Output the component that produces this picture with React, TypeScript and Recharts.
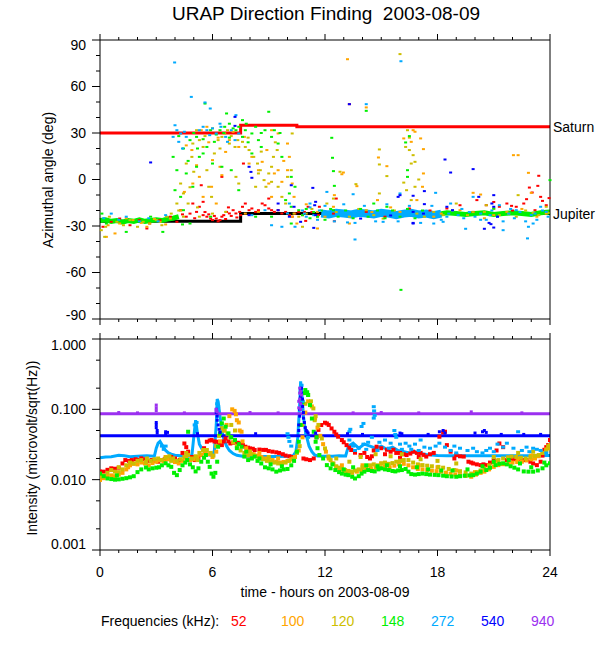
import React from 'react';
import { ComposedChart, Scatter, Line, XAxis, YAxis } from 'recharts';

type Pt = [number, number];

// axis ticks
const hourTicks = [0, 1, 2, 3, 4, 5, 6, 7, 8, 9, 10, 11, 12, 13, 14, 15, 16, 17, 18, 19, 20, 21, 22, 23, 24];
const hourLabels = [0, 6, 12, 18, 24];
const angleTicks = [-90, -80, -70, -60, -50, -40, -30, -20, -10, 0, 10, 20, 30, 40, 50, 60, 70, 80, 90];
const angleLabels = [-90, -60, -30, 0, 30, 60, 90];
const intensityTicks = [0.001, 0.002, 0.005, 0.01, 0.02, 0.05, 0.1, 0.2, 0.5, 1];
const intensityLabels = [0.001, 0.01, 0.1, 1];

const freqNames = ['52', '100', '120', '148', '272', '540', '940'];

const COLORS: Record<string, string> = {
  '52': '#ff0000',
  '100': '#ffa500',
  '120': '#cdbe00',
  '148': '#00f000',
  '272': '#00aaff',
  '540': '#0000ff',
  '940': '#9b30f0',
};

// planet directions (deg)
const saturnSteps: Pt[] = [[0, 30], [7.5, 35], [10.5, 34], [24, 34]];
const jupiterSteps: Pt[] = [[0, -27], [7.5, -22], [10.5, -22], [24, -22]];

// dense cores of the direction clusters
const coreGreenEarly: Pt[] = [
  [0, -26.5], [0.3, -26], [0.6, -27], [0.9, -26.5], [1.2, -27.5], [1.5, -26.5], [1.8, -27], [2.1, -26],
  [2.4, -27], [2.7, -26.5], [3.0, -26], [3.3, -26.5], [3.6, -25.5], [3.9, -25], [4.2, -24],
];
const coreCyan: Pt[] = [
  [11.8, -22], [12.2, -22.5], [12.6, -21.5], [13.0, -22], [13.4, -22.5], [13.8, -21.5], [14.2, -22], [14.6, -22.5],
  [15.0, -21.5], [15.4, -22], [15.8, -23], [16.2, -22], [16.6, -21.5], [17.0, -22.5], [17.4, -22], [17.8, -23], [18.2, -22],
];
const coreGreenLate: Pt[] = [
  [17.5, -22], [18, -22.5], [18.5, -21.5], [19, -22], [19.5, -22.5], [20, -22], [20.5, -21.5], [21, -22.5],
  [21.5, -22], [22, -21.5], [22.5, -22], [23, -22.5], [23.5, -21.5], [24, -21],
];

// azimuth scatter
const dirRed: Pt[] = [
  [0.16, -30.5], [0.6, -27.3], [1.05, -25.2], [1.6, -29.5], [2.1, -26.2], [2.65, -28.4], [2.5, -31.6], [3.2, -26.2], [3.75, -24], [4.1, -27.3],
  [4.3, -19.8], [4.6, -24], [4.95, -15.5], [5.15, -20.9], [5.3, -17.6], [5.5, -23], [5.7, -24], [5.9, -25.2], [6.0, -26.2], [6.2, -25.2],
  [6.4, -26.2], [6.6, -23], [6.75, -20.9], [6.9, -21.9], [7.1, -19.8], [7.25, -21.9], [7.45, -20.9], [7.6, -17.6], [7.75, -15.5], [7.95, -19.8],
  [8.1, -18.7], [8.3, -20.9], [8.45, -19.8], [8.65, -15.5], [8.8, -16.6], [9.0, -18.7], [9.15, -19.8], [9.3, -20.9], [9.5, -19.8], [9.7, -21.9],
  [9.9, -20.9], [10.1, -23], [10.25, -24], [10.4, -21.9], [10.6, -20.9], [10.8, -23], [5.4, -3.7], [6.5, 1.7], [7.65, 10.3], [5.5, -14.4],
  [9.0, -12.3], [4.8, -22], [5.05, -25], [5.6, -21], [5.8, -22.5], [6.1, -23.5], [6.3, -27], [6.5, -24], [6.7, -25.5], [7.0, -23.5],
  [7.3, -24.5], [4.4, -22.5], [6.85, -18], [7.5, -23],
  [10.9, -20.9], [11.7, -17.6], [12.45, -22], [12.6, -12.3], [13.3, 48.6], [12.5, -26.9], [14.2, -20.9], [16.5, -18.7], [18.5, -18.7], [20.1, -13.3],
  [20.6, -16.6], [21.7, -15.5], [21.95, -17], [22.75, -12.7], [22.9, -5.2], [23.4, 2.4], [23.35, -4.1], [23.5, -11.2], [23.6, -13.8], [23.05, -8.4],
  [22.6, -15.5], [22.2, -17.6], [21.3, -17.6], [19.2, -16.6], [11.1, -17.6], [11.65, -23], [10.97, -26.7], [19.9, -20.9], [23.8, -16.6], [23.2, -19.8],
  [11.3, -21], [15.2, -24], [17.6, -20], [21.0, -14.5], [22.0, -20], [23.95, -12],
];
const dirOrange: Pt[] = [
  [0.43, -29.5], [0.8, -34.8], [1.05, -28.4], [1.76, -26.2], [2.5, -30.5], [3.2, -27.3], [3.75, -25.2], [0.34, -37], [1.4, -25], [2.2, -28],
  [2.9, -25.5], [3.5, -29],
  [4.6, 22], [4.9, 19], [5.15, 9.2], [5.3, 1.7], [5.4, 31.8], [5.7, 34], [5.95, -4.7], [6.0, 12.5], [6.4, 8.2], [6.5, 2.8], [6.7, 17.8],
  [6.9, 25.4], [7.1, 30.8], [7.4, 21], [7.7, 27.5], [7.95, 10.3], [8.1, 14.6], [8.45, 6], [8.65, 11.4], [9.0, -2.6], [9.15, -11.2], [9.3, 3.9],
  [9.5, 6], [9.7, -1.5], [10.0, 6], [10.1, 14.6], [10.25, -2.6], [10.35, -11.2], [5.5, -11.2], [6.2, -15.5], [4.95, -2.6], [7.75, -22],
  [8.45, -20.9], [10.25, -24], [10.5, -28.4], [9.15, 31.8], [9.5, 29.7], [10.0, 23.2], [4.3, -20], [4.5, -8], [5.8, 24], [6.3, 27], [8.9, 19], [9.8, 12],
  [16.7, 31.8], [16.8, 30.8], [16.2, 26.5], [16.6, 24.3], [17.1, 26.5], [17.25, 19.6], [16.9, -13.3], [17.2, -4.7], [17.25, 3.9], [14.85, 14.2],
  [14.8, -13.3], [15.3, 8.6], [13.7, -4.3], [12.98, 4.5], [12.9, 3.4], [12.5, -10.1], [13.2, 77.6], [14.2, 46.5], [22.05, 15.7], [22.3, 15.7],
  [22.85, 4.3], [23.0, -8.6], [19.9, -8.6], [20.3, -9.7], [11.6, -31.6], [13.3, -28.4], [17.8, -24], [19.2, -19.8], [21.7, -20.9], [23.3, -24],
  [21, -23], [16, -20.9], [11.6, -20.9], [12.45, -17.6], [11.0, -16], [12.0, -24], [14.5, -21], [15.5, -18], [18.2, -22], [20.5, -25], [22.5, -19], [23.8, -22],
];
const dirYellow: Pt[] = [
  [0.07, -32.7], [0.3, -30.5], [0.5, -24], [0.9, -27.3], [1.25, -29.5], [1.6, -26.2], [2.0, -30.5], [2.3, -27.3], [2.65, -28.4], [3.0, -26.2],
  [3.3, -29.5], [3.55, -24], [3.8, -22], [0.25, -37],
  [4.1, -15.5], [4.3, -2.6], [4.45, -9], [4.6, 10.3], [4.7, -15.5], [4.9, 14.6], [4.95, 23.2], [5.15, 31.8], [5.3, 25.4], [5.5, 21], [5.7, 6],
  [5.8, -4.7], [5.95, -11.2], [6.1, 16.8], [6.3, 25.4], [6.5, 27.5], [6.65, 29.7], [6.8, 31.8], [6.9, 23.2], [7.2, 21], [7.35, 25.4], [7.6, 24.3],
  [7.75, 21], [7.95, 19], [8.2, 14.6], [8.4, 10.3], [8.55, 6], [8.75, -0.4], [8.85, -4.7], [9.0, 3.9], [9.15, 8.2], [9.25, 14.6], [9.45, 19],
  [9.5, -4.7], [9.7, -11.2], [9.9, -15.5], [10.0, 1.7], [10.2, 6], [10.25, 29.7], [10.35, -22], [10.6, -24], [10.8, -30.5], [7.25, 1.7], [7.4, -2.6],
  [8.3, -4.7], [8.45, 3.9], [9.15, -1.5], [4.45, -24], [6.0, -22], [6.7, -20.9], [5.3, -24], [4.2, -20], [5.0, 5], [5.6, 28], [6.0, 33], [6.4, 20],
  [7.0, 28], [7.9, 27], [8.6, 18], [9.35, 24], [4.8, -5], [5.2, -18],
  [16.0, 80.9], [14.9, 19.4], [14.9, 9.7], [14.9, -9], [15.3, 2.2], [16.3, 21], [16.4, 31.8], [16.5, 19], [16.6, 10.3], [16.7, 15.7], [16.8, 11.4],
  [16.8, -4.7], [16.35, -6.9], [16.6, -13.3], [13.65, -3], [12.8, 5], [12.45, -12.3], [22.3, -10.1], [23.8, -17.6], [20.6, -16.6], [19.0, -15.5],
  [12.1, -15.5], [11.6, -24], [14.2, -19.8], [17.8, -20.9], [18.3, -23], [21.3, -23], [23.1, -21.5], [19.6, -23], [15.1, -25.2], [13.3, -24],
  [16.9, -22], [20.5, -20.9], [22.2, -24], [23.9, -21.5], [11.0, -22], [11.3, -19], [12.6, -21], [13.8, -19], [14.6, -23], [15.7, -20], [17.3, -24],
  [18.8, -20], [19.9, -21], [21.0, -19], [21.8, -22], [22.7, -20], [23.4, -23], [16.5, 27], [16.2, -2], [17.0, 0],
];
const dirGreen: Pt[] = [
  [1.4, -33.8], [3.35, -33.8], [0.34, -28.4], [2.7, -24], [0.1, -22], [4.4, -29],
  [3.9, 14.6], [4.1, 6], [4.0, -6.9], [4.3, -11.2], [4.6, 3.9], [4.95, -4.7], [4.45, 20], [4.8, 25.4], [5.15, 27.5], [5.6, 49], [5.3, 14.6],
  [5.7, 21], [6.1, 24.3], [5.9, 31.8], [6.4, 31.8], [6.65, 34], [6.9, 36], [7.25, 31.8], [7.4, 34], [7.6, 27.5], [7.75, 31.8], [8.1, 29.7],
  [8.3, 34], [8.45, 25.4], [9.0, 43.7], [8.8, 31.8], [9.15, 27.5], [9.3, 31.8], [9.5, 23.2], [9.7, 14.6], [10.2, 1.7], [10.4, -4.7], [10.1, -9],
  [9.9, -13.3], [10.2, -17.6], [10.6, -19.8], [7.4, -6.9], [7.0, 6], [6.5, 8.2], [6.0, 10.3], [5.15, 8.2], [5.5, 16.8], [4.8, -28.4], [4.45, -19.8],
  [5.9, -24], [8.3, -24], [9.15, -24], [10.2, -28.4], [8.1, 16.8], [8.6, 21], [7.6, 38.3], [6.75, 42.6], [4.2, 28], [5.0, 30], [5.5, 26], [6.2, 29],
  [6.9, 27], [7.1, 33], [7.9, 24], [8.6, 30], [9.6, 30], [5.2, 20], [4.7, 12], [7.8, 36], [6.6, 30],
  [12.36, 26.9], [12.4, 14], [12.45, 5.4], [12.5, -4.1], [16.5, 28], [16.3, 23.9], [16.4, 6], [16.4, 1.7], [14.2, 44.3], [16.05, -71.2], [24.0, -0.4],
  [15.3, -17.6], [14.6, -15.5], [21, -18.7], [12.45, -19.8],
  [10.8, -23], [11.0, -19], [11.2, -25], [11.4, -21], [11.6, -24], [11.8, -20], [12.0, -26], [12.3, -19], [12.7, -24], [13.1, -20], [13.5, -25],
  [13.9, -19], [14.3, -24], [14.8, -20], [15.2, -25], [15.6, -20], [16.0, -24], [16.4, -19], [16.8, -25], [17.2, -20],
];
const dirCyan: Pt[] = [
  [3.98, 75.5], [4.87, 53.3], [5.88, 45.8], [5.6, 49.7],
  [3.9, 27.5], [4.1, 31.8], [4.3, 29.7], [4.5, 30.8], [4.2, 24.3], [4.6, 27.5], [4.4, 20], [4.0, 35],
  [5.3, 31.8], [5.5, 34], [5.7, 31.8], [6.0, 33], [6.2, 29.7], [6.45, 34], [6.7, 27.5], [7.0, 31.8], [7.25, 41.5], [7.2, 25.4], [7.4, 29.7],
  [6.8, 24.3], [6.4, 36], [5.85, 28.6],
  [8.1, -23], [8.8, -19.8], [10.0, -21.9], [10.1, -15.5], [10.4, -30.5], [9.7, -30.5], [9.15, -29.5],
  [0.6, -22], [1.4, -24], [2.1, -27], [3.5, -23], [0.2, -25], [1.0, -26], [2.6, -25], [3.1, -27],
  [14.2, 48.6], [16.05, 76.3], [13.6, -38.7], [22.8, -38], [17.9, -8.6], [19.5, -31.8], [21.5, -32.7], [22.85, -30.5], [20.3, -26], [16, -9],
  [18.7, -15.5], [21.3, -16.6], [22.2, -19.8], [23.5, -17.6], [23.1, -28.4], [23.8, -20.9], [13.5, -9.5], [12.1, -8], [11.2, -15.5], [10.9, -22],
  [13.2, -27.7], [15.1, -27.3], [17.8, -28.4], [18.3, -27.3], [19.9, -11.2],
  [12.0, -17], [12.5, -27], [13.0, -16], [13.6, -28], [14.1, -17], [14.7, -27], [15.3, -16], [15.9, -27], [16.5, -17], [17.1, -28], [17.7, -17],
  [18.2, -26], [11.4, -23], [11.6, -26], [11.7, -20], [10.8, -20], [11.0, -24], [11.2, -18],
  [18.5, -24], [18.8, -20], [19.1, -23], [19.4, -25], [19.7, -21], [20.0, -24], [20.3, -22], [20.6, -26], [20.9, -20], [21.2, -24], [21.5, -27],
  [21.8, -22], [22.1, -25], [22.4, -21], [22.7, -27], [23.0, -23], [23.3, -26], [23.6, -20], [23.9, -24], [18.6, -22], [19.3, -19], [20.8, -23],
  [21.9, -19], [23.2, -22],
];
const dirBlue: Pt[] = [
  [2.7, 11], [7.2, 40.4], [7.2, 34.6], [7.95, 8.2], [8.1, 1.1], [8.05, 4.9], [7.95, -23], [9.5, -19.8], [9.5, -15.5], [10.2, -3.7], [10.1, -24],
  [10.35, -17.6], [10.7, -27.3], [11.35, -5.4], [11.45, -16.6], [11.4, -31.2], [11.5, -14.4], [15.9, -11.2], [16, -10.1], [16.7, -10.5],
  [18.4, 12.9], [18.7, 4.5], [19.9, 6.7], [17.3, -7.5], [17.3, -15.9], [20.9, -15.5], [21, -17.6], [20.75, -28], [20.85, -28.8], [20.5, -31.8],
  [21, -31], [20.2, -11.2], [21, -10.1], [21.2, -24], [16.7, -28.4], [15.5, -23.2], [13.9, -25.2], [11.5, -23], [16.7, -20.9], [17.25, -22],
  [16.7, -28], [18.5, -17.6], [18.8, -19.8], [13.3, 48.6],
];

// intensity (microvolt/sqrt(Hz))
const levelPurple: Pt[] = [[0, 0.0865], [24, 0.0865]];
const spikesPurple: Pt[] = [
  [3.0, 0.115], [3.0, 0.105], [3.0, 0.096], [6.2, 0.095], [6.2, 0.1], [6.25, 0.092], [10.65, 0.2], [10.65, 0.17], [10.65, 0.14],
  [10.7, 0.12], [10.7, 0.1], [10.7, 0.18], [10.75, 0.16], [10.6, 0.13], [10.6, 0.105], [1.0, 0.09], [2.0, 0.089], [4.5, 0.089],
  [8.0, 0.09], [9.5, 0.089], [13.5, 0.089], [15, 0.09], [17.0, 0.089], [19.8, 0.092], [22.5, 0.089],
];
const levelBlue: Pt[] = [[0, 0.042], [24, 0.042]];
const spikesBlue: Pt[] = [
  [3.0, 0.065], [3.0, 0.06], [3.0, 0.055], [3.05, 0.05], [3.05, 0.046], [3.5, 0.048], [3.5, 0.045], [3.6, 0.047], [5.2, 0.045],
  [6.2, 0.1], [6.2, 0.09], [6.25, 0.08], [6.25, 0.07], [6.3, 0.06], [6.35, 0.052], [6.4, 0.047], [8.3, 0.045],
  [10.6, 0.05], [10.6, 0.06], [10.65, 0.08], [10.65, 0.1], [10.7, 0.12], [10.7, 0.15], [10.7, 0.19], [10.75, 0.2], [10.75, 0.17],
  [10.8, 0.14], [10.8, 0.11], [10.85, 0.09], [10.85, 0.075], [10.9, 0.065], [10.95, 0.055], [11.0, 0.05], [11.05, 0.048], [11.1, 0.046],
  [11.5, 0.046], [13.2, 0.045], [14.0, 0.044], [16.0, 0.046], [16.1, 0.045], [17.5, 0.044], [18.1, 0.048], [18.3, 0.05], [18.4, 0.046],
  [20.0, 0.046], [20.4, 0.048], [20.5, 0.05], [20.6, 0.047], [21.4, 0.044], [22.6, 0.044], [23.5, 0.044],
];
const traceCyan: Pt[] = [
  [0, 0.0205], [0.3, 0.021], [0.6, 0.0212], [1.0, 0.0222], [1.3, 0.0218], [1.6, 0.0212], [2.0, 0.0215], [2.5, 0.0218], [2.9, 0.0215],
  [3.0, 0.028], [3.1, 0.033], [3.2, 0.035], [3.35, 0.03], [3.5, 0.026], [3.65, 0.024], [3.8, 0.023], [4.0, 0.0222], [4.3, 0.0218],
  [4.6, 0.0212], [4.9, 0.022], [5.0, 0.04], [5.1, 0.07], [5.2, 0.045], [5.3, 0.032], [5.45, 0.027], [5.6, 0.024], [5.8, 0.0225],
  [6.0, 0.022], [6.1, 0.026], [6.2, 0.06], [6.25, 0.14], [6.3, 0.13], [6.4, 0.08], [6.5, 0.05], [6.6, 0.038], [6.75, 0.03], [6.9, 0.026],
  [7.1, 0.0235], [7.3, 0.0222], [7.6, 0.0215], [8.0, 0.0213], [8.5, 0.0214], [9.0, 0.0213], [9.5, 0.0214], [10.0, 0.0215], [10.3, 0.0218],
  [10.45, 0.025], [10.55, 0.04], [10.65, 0.12], [10.7, 0.25], [10.78, 0.15], [10.85, 0.08], [10.95, 0.05], [11.05, 0.038], [11.15, 0.03],
  [11.3, 0.025], [11.45, 0.0225], [11.6, 0.0217], [12.0, 0.0215], [12.4, 0.0215], [12.75, 0.0218], [13.1, 0.0217], [13.25, 0.03],
  [13.5, 0.033], [13.8, 0.028], [14.1, 0.032], [14.4, 0.03], [14.7, 0.028], [15.0, 0.03], [15.3, 0.027], [15.6, 0.029], [15.9, 0.026],
  [16.2, 0.025], [16.5, 0.024], [16.8, 0.025], [17.1, 0.0235], [17.4, 0.0228], [17.7, 0.0225], [18.0, 0.022], [18.5, 0.0218], [19, 0.0218],
  [20, 0.0218], [21, 0.0218], [22, 0.0218], [23, 0.0218], [24, 0.022],
];
const cloudCyan: Pt[] = [
  [13.3, 0.0366], [13.5, 0.03], [13.8, 0.028], [14.05, 0.032], [14.3, 0.034], [14.5, 0.04], [14.6, 0.109], [14.62, 0.095], [14.65, 0.082],
  [14.6, 0.075], [14.9, 0.034], [15.2, 0.0366], [15.5, 0.033], [15.7, 0.05], [15.8, 0.04], [16.0, 0.032], [16.3, 0.033], [16.5, 0.03],
  [16.8, 0.032], [17.1, 0.0366], [17.3, 0.029], [17.6, 0.028], [17.9, 0.03], [18.1, 0.033], [18.4, 0.029], [18.7, 0.026], [18.9, 0.03],
  [19.2, 0.028], [19.6, 0.026], [19.9, 0.028], [20.4, 0.024], [20.8, 0.028], [21.2, 0.032], [21.5, 0.029], [21.7, 0.033], [22.05, 0.028],
  [22.3, 0.048], [22.5, 0.026], [22.75, 0.029], [23.1, 0.028], [23.5, 0.026], [23.8, 0.024], [14.05, 0.063], [13.95, 0.057], [13.3, 0.048],
  [13.35, 0.052], [15.75, 0.044], [16.6, 0.027], [17.0, 0.026], [19.0, 0.024], [20.1, 0.025], [20.6, 0.026], [21.0, 0.025], [22.9, 0.025],
  [23.3, 0.027], [13.6, 0.026], [14.2, 0.027], [14.8, 0.026], [15.4, 0.028], [16.1, 0.027], [5.05, 0.06], [5.15, 0.065], [6.3, 0.11],
  [6.25, 0.12], [10.75, 0.22], [10.7, 0.18], [10.8, 0.13], [11.0, 0.045], [11.1, 0.04], [10.0, 0.045], [10.05, 0.04], [10.1, 0.035], [10.2, 0.03],
  [3.3, 0.03], [3.4, 0.027], [3.5, 0.03],
];
const intRed: Pt[] = [
  [0.0, 0.0131], [0.2, 0.013], [0.4, 0.0138], [0.6, 0.0145], [0.8, 0.0143], [1.0, 0.0148], [1.2, 0.017], [1.35, 0.019], [1.55, 0.0185],
  [1.7, 0.019], [1.9, 0.0195], [2.05, 0.019], [2.2, 0.0201], [2.4, 0.0195], [2.6, 0.0185], [2.75, 0.019], [2.95, 0.0185], [3.1, 0.018],
  [3.3, 0.019], [3.45, 0.0195], [3.65, 0.0205], [3.8, 0.021], [4.0, 0.02], [4.25, 0.019], [4.4, 0.024], [4.5, 0.0327], [4.6, 0.029],
  [4.7, 0.025], [4.9, 0.021], [5.05, 0.019], [5.25, 0.0205], [5.4, 0.0224], [5.55, 0.028], [5.7, 0.0346], [5.85, 0.036], [5.95, 0.0366],
  [6.1, 0.035], [6.2, 0.0346], [6.35, 0.033], [6.5, 0.031], [6.6, 0.035], [6.7, 0.0385], [6.85, 0.035], [6.95, 0.0327], [7.1, 0.0335],
  [7.2, 0.0346], [7.35, 0.0335], [7.5, 0.0327], [7.62, 0.031], [7.75, 0.0294], [7.9, 0.0285], [8.0, 0.0278], [8.15, 0.0275], [8.25, 0.0264],
  [8.5, 0.0268], [8.7, 0.0265], [8.85, 0.0265], [9.0, 0.0255], [9.2, 0.025], [9.4, 0.0245], [9.55, 0.024], [9.75, 0.023], [9.9, 0.022],
  [10.1, 0.0215], [10.25, 0.021], [10.85, 0.02], [11.0, 0.0195], [11.2, 0.019], [11.4, 0.02], [11.55, 0.04], [11.65, 0.051], [11.8, 0.0598],
  [12.0, 0.0645], [12.1, 0.063], [12.2, 0.06], [12.35, 0.0535], [12.5, 0.048], [12.6, 0.044], [12.7, 0.0408], [12.9, 0.0366], [13.0, 0.034],
  [13.15, 0.031], [13.3, 0.0285], [13.4, 0.0264], [13.6, 0.0242], [13.9, 0.0224], [14.1, 0.024], [14.25, 0.021], [14.4, 0.02], [14.6, 0.026],
  [14.75, 0.0294], [15.0, 0.028], [15.3, 0.0266], [15.5, 0.025], [15.65, 0.0266], [15.8, 0.024], [16.0, 0.024], [16.2, 0.023], [16.35, 0.0224],
  [16.55, 0.0235], [16.7, 0.025], [16.9, 0.024], [17.1, 0.024], [17.25, 0.0225], [17.4, 0.0213], [17.6, 0.023], [17.8, 0.024], [18.1, 0.0408],
  [18.3, 0.047], [18.4, 0.048], [18.5, 0.031], [18.7, 0.025], [19.0, 0.0224], [19.2, 0.0215], [19.4, 0.0213], [19.65, 0.018], [19.8, 0.0175],
  [19.9, 0.017], [20.1, 0.0165], [20.3, 0.0161], [20.45, 0.0165], [20.6, 0.0161], [20.8, 0.0175], [21.0, 0.019], [21.15, 0.026], [21.3, 0.0327],
  [21.5, 0.029], [21.7, 0.019], [21.9, 0.02], [22.05, 0.0195], [22.25, 0.0195], [22.4, 0.0195], [22.6, 0.019], [22.75, 0.019], [22.95, 0.018],
  [23.1, 0.017], [23.3, 0.0161], [23.5, 0.018], [23.6, 0.022], [23.7, 0.0266], [23.8, 0.029], [23.9, 0.031], [24.0, 0.0366],
  [14.5, 0.0215], [15.2, 0.023], [16.0, 0.0205], [17.0, 0.021], [18.9, 0.02],
];
const intOrange: Pt[] = [
  [0.0, 0.0099], [0.2, 0.0105], [0.4, 0.0112], [0.6, 0.0115], [0.8, 0.0112], [1.0, 0.0118], [1.2, 0.0125], [1.4, 0.014], [1.6, 0.016],
  [1.8, 0.0168], [2.0, 0.0165], [2.2, 0.0175], [2.4, 0.017], [2.6, 0.016], [2.8, 0.0172], [3.0, 0.018], [3.2, 0.0188], [3.4, 0.0182],
  [3.6, 0.0195], [3.8, 0.019], [4.0, 0.0178], [4.2, 0.017], [4.4, 0.0185], [4.6, 0.02], [4.8, 0.019], [5.0, 0.0195], [5.2, 0.021],
  [5.4, 0.0225], [5.6, 0.024], [5.8, 0.023], [6.0, 0.021], [6.2, 0.025], [6.4, 0.035], [6.6, 0.05], [6.75, 0.06], [6.9, 0.08], [7.05, 0.1],
  [7.18, 0.095], [7.3, 0.07], [7.45, 0.05], [7.6, 0.035], [7.8, 0.028], [8.0, 0.025], [8.2, 0.023], [8.4, 0.022], [8.6, 0.021], [8.8, 0.02],
  [9.0, 0.0195], [9.2, 0.019], [9.4, 0.018], [9.6, 0.0175], [9.8, 0.0178], [10.0, 0.0185], [10.2, 0.0195], [10.4, 0.021], [10.6, 0.026],
  [10.8, 0.04], [10.95, 0.09], [11.1, 0.13], [11.3, 0.11], [11.47, 0.074], [11.6, 0.055], [11.75, 0.042], [11.9, 0.032], [12.05, 0.025],
  [12.2, 0.02], [12.4, 0.017], [12.6, 0.015], [12.8, 0.014], [13.0, 0.0133], [13.2, 0.0128], [13.45, 0.0125], [13.7, 0.013], [13.95, 0.0135],
  [14.2, 0.014], [14.45, 0.0145], [14.7, 0.0148], [14.95, 0.015], [15.2, 0.0155], [15.45, 0.015], [15.7, 0.0158], [15.95, 0.0165],
  [16.2, 0.0168], [16.45, 0.016], [16.7, 0.015], [16.95, 0.0142], [17.2, 0.014], [17.45, 0.0137], [17.7, 0.0134], [17.95, 0.0132],
  [18.2, 0.013], [18.45, 0.0126], [18.7, 0.0122], [18.95, 0.0118], [19.2, 0.0116], [19.5, 0.0113], [19.8, 0.011], [20.05, 0.0118],
  [20.3, 0.0125], [20.5, 0.013], [20.75, 0.014], [21.0, 0.0152], [21.25, 0.0161], [21.5, 0.0166], [21.8, 0.0171], [22.0, 0.0175],
  [22.25, 0.0178], [22.5, 0.018], [22.75, 0.0188], [23.0, 0.0195], [23.2, 0.02], [23.4, 0.0215], [23.6, 0.024], [23.8, 0.027], [24.0, 0.031],
  [7.4, 0.065], [7.55, 0.048], [7.25, 0.085], [1.5, 0.015], [3.5, 0.021], [5.5, 0.026], [8.5, 0.024], [9.5, 0.02], [12.9, 0.016], [14.0, 0.016],
  [15.0, 0.017], [16.0, 0.0185], [17.0, 0.016], [18.0, 0.015], [19.0, 0.0135], [20.0, 0.0128], [21.2, 0.0185], [22.3, 0.02], [23.0, 0.022],
];
const intYellow: Pt[] = [
  [0.0, 0.011], [0.2, 0.0115], [0.4, 0.0125], [0.6, 0.0137], [0.8, 0.013], [1.0, 0.0128], [1.2, 0.014], [1.4, 0.016], [1.6, 0.0175],
  [1.8, 0.017], [2.0, 0.0185], [2.2, 0.019], [2.45, 0.0178], [2.7, 0.0185], [2.9, 0.0195], [3.1, 0.02], [3.3, 0.019], [3.5, 0.0205],
  [3.7, 0.0215], [3.9, 0.02], [4.1, 0.0185], [4.3, 0.0195], [4.5, 0.021], [4.7, 0.0225], [4.9, 0.02], [5.1, 0.0215], [5.3, 0.024],
  [5.5, 0.0264], [5.7, 0.0264], [5.9, 0.024], [6.05, 0.022], [6.2, 0.03], [6.35, 0.042], [6.5, 0.054], [6.65, 0.05], [6.8, 0.045],
  [6.95, 0.04], [7.1, 0.034], [7.3, 0.03], [7.5, 0.026], [7.7, 0.024], [7.9, 0.022], [8.1, 0.023], [8.3, 0.0215], [8.5, 0.02], [8.7, 0.0195],
  [8.9, 0.0185], [9.1, 0.018], [9.3, 0.0175], [9.5, 0.017], [9.7, 0.0168], [9.9, 0.0175], [10.1, 0.0185], [10.3, 0.02], [10.5, 0.024],
  [10.65, 0.03], [10.8, 0.06], [10.95, 0.12], [11.1, 0.16], [11.25, 0.13], [11.38, 0.103], [11.5, 0.08], [11.65, 0.06], [11.83, 0.0385],
  [12.0, 0.0278], [12.18, 0.0213], [12.3, 0.019], [12.45, 0.017], [12.6, 0.0155], [12.71, 0.0148], [12.9, 0.0142], [13.07, 0.0137],
  [13.25, 0.0133], [13.43, 0.013], [13.6, 0.0135], [13.8, 0.014], [14.0, 0.015], [14.2, 0.0155], [14.4, 0.016], [14.6, 0.0165], [14.8, 0.016],
  [15.0, 0.017], [15.2, 0.0175], [15.4, 0.0168], [15.6, 0.0172], [15.8, 0.018], [16.0, 0.0185], [16.2, 0.019], [16.45, 0.019], [16.7, 0.0175],
  [16.95, 0.0165], [17.2, 0.0161], [17.45, 0.0158], [17.7, 0.0155], [18.05, 0.0152], [18.3, 0.0148], [18.6, 0.0142], [18.9, 0.0137],
  [19.2, 0.0132], [19.5, 0.0127], [19.8, 0.0122], [20.1, 0.0128], [20.3, 0.0135], [20.5, 0.0145], [20.75, 0.016], [21.0, 0.0175],
  [21.25, 0.019], [21.5, 0.02], [21.75, 0.0208], [21.95, 0.0213], [22.2, 0.021], [22.45, 0.0205], [22.7, 0.02], [22.95, 0.021], [23.2, 0.0218],
  [23.4, 0.0224], [23.6, 0.024], [23.8, 0.026], [24.0, 0.0278],
  [1.0, 0.015], [2.5, 0.02], [3.8, 0.0185], [4.6, 0.024], [5.2, 0.019], [7.0, 0.06], [7.2, 0.05], [8.0, 0.025], [9.0, 0.021], [11.45, 0.07],
  [12.6, 0.02], [13.3, 0.018], [13.9, 0.021], [14.7, 0.023], [15.5, 0.0215], [16.1, 0.023], [17.1, 0.0195], [18.0, 0.0185], [19.0, 0.017],
  [21.0, 0.021], [22.3, 0.024], [23.1, 0.025], [23.9, 0.03],
];
const intGreen: Pt[] = [
  [0.0, 0.0122], [0.2, 0.0112], [0.4, 0.0104], [0.6, 0.0102], [0.8, 0.01], [1.0, 0.0101], [1.2, 0.0103], [1.4, 0.0105], [1.6, 0.0108],
  [1.8, 0.0112], [2.0, 0.0128], [2.2, 0.014], [2.45, 0.0149], [2.6, 0.014], [2.8, 0.0145], [3.0, 0.0148], [3.15, 0.015], [3.3, 0.016],
  [3.5, 0.0171], [3.65, 0.016], [3.8, 0.0152], [3.95, 0.0125], [4.1, 0.0116], [4.25, 0.0137], [4.4, 0.016], [4.55, 0.0175], [4.65, 0.019],
  [4.8, 0.0165], [4.95, 0.015], [5.1, 0.0131], [5.25, 0.0145], [5.4, 0.018], [5.55, 0.0205], [5.65, 0.0224], [5.75, 0.018], [5.85, 0.0152],
  [5.95, 0.0122], [6.05, 0.011], [6.15, 0.0125], [6.25, 0.018], [6.3, 0.0294], [6.4, 0.0455], [6.5, 0.0632], [6.6, 0.074], [6.7, 0.0566],
  [6.85, 0.0455], [7.0, 0.04], [7.2, 0.0366], [7.4, 0.032], [7.55, 0.0294], [7.7, 0.0213], [7.9, 0.019], [8.1, 0.02], [8.25, 0.0213],
  [8.4, 0.0185], [8.6, 0.017], [8.8, 0.015], [9.0, 0.0145], [9.2, 0.014], [9.4, 0.013], [9.6, 0.0135], [9.8, 0.014], [10.0, 0.0142],
  [10.2, 0.016], [10.35, 0.0185], [10.5, 0.025], [10.6, 0.0346], [10.7, 0.06], [10.8, 0.128], [10.9, 0.17], [10.95, 0.188], [11.05, 0.175],
  [11.1, 0.16], [11.2, 0.115], [11.3, 0.074], [11.4, 0.048], [11.5, 0.0346], [11.6, 0.028], [11.7, 0.0224], [11.9, 0.02], [12.1, 0.0161],
  [12.3, 0.0145], [12.55, 0.0137], [12.75, 0.0128], [12.9, 0.0122], [13.1, 0.0118], [13.25, 0.0116], [13.45, 0.011], [13.6, 0.0104],
  [13.8, 0.0112], [13.95, 0.0122], [14.1, 0.013], [14.3, 0.0137], [14.5, 0.0133], [14.65, 0.0131], [14.85, 0.014], [15.0, 0.0145],
  [15.2, 0.014], [15.4, 0.0137], [15.6, 0.0133], [15.75, 0.0131], [15.9, 0.0135], [16.1, 0.0137], [16.3, 0.0142], [16.45, 0.013],
  [16.6, 0.012], [16.8, 0.0118], [17.0, 0.012], [17.2, 0.0122], [17.4, 0.012], [17.6, 0.0118], [17.85, 0.0117], [18.05, 0.0116],
  [18.3, 0.0114], [18.5, 0.0112], [18.75, 0.0111], [19.0, 0.011], [19.2, 0.0112], [19.45, 0.0114], [19.7, 0.0115], [19.9, 0.0116],
  [20.1, 0.0122], [20.3, 0.013], [20.6, 0.0137], [20.8, 0.0148], [21.1, 0.0161], [21.3, 0.0168], [21.5, 0.0171], [21.7, 0.0165],
  [21.9, 0.0155], [22.1, 0.0148], [22.3, 0.014], [22.6, 0.0131], [22.85, 0.013], [23.1, 0.013], [23.35, 0.0135], [23.6, 0.0145],
  [23.8, 0.016], [24.0, 0.0171],
  [0.9, 0.0115], [4.7, 0.048], [7.3, 0.028], [7.8, 0.025], [8.5, 0.02], [9.1, 0.0165], [9.7, 0.0155], [11.55, 0.04], [12.4, 0.0165],
  [13.0, 0.014], [13.5, 0.015], [14.2, 0.016], [14.8, 0.0155], [15.3, 0.016], [16.0, 0.0155], [16.9, 0.015], [17.5, 0.014], [18.2, 0.0135],
  [18.8, 0.0135], [19.6, 0.014], [20.4, 0.0155], [21.0, 0.018], [21.8, 0.019], [22.4, 0.017], [23.0, 0.015], [23.7, 0.0175],
];

const FONT = '"Liberation Sans", Arial, Helvetica, sans-serif';
const pts = (a: Pt[]) => a.map(([h, v]) => ({ h, v }));

const dash = (color: string, w: number, hh: number) => (p: any) => (
  <rect x={p.cx - w / 2} y={p.cy - hh / 2} width={w} height={hh} fill={color} />
);

// left y ticks: long marks at labelled values, short ones between
const makeYTick = (labels: number[], fmt: (v: number) => string, shiftOf: (v: number) => number) => (p: any) => {
  const v = p.payload.value;
  const major = labels.includes(v);
  return (
    <g>
      <line x1={p.x} x2={p.x - (major ? 8 : 4)} y1={p.y} y2={p.y} stroke="#000" />
      {major && (
        <text x={p.x - 14} y={p.y + shiftOf(v)} dy="0.35em" textAnchor="end" fontSize={14} fontFamily={FONT} fill="#000">
          {fmt(v)}
        </text>
      )}
    </g>
  );
};

const AngleTick = makeYTick(angleLabels, (v) => String(v), (v) => (v === 90 ? 5 : v === -90 ? -4 : 0));
const IntensityTick = makeYTick(intensityLabels, (v) => v.toFixed(3), (v) => (v === 1 ? 6 : v === 0.001 ? -6 : 0));

// hour ticks: 6-hourly marks longer, optional labels below
const makeHourTick = (dir: number, withLabel: boolean) => (p: any) => {
  const v = p.payload.value;
  const major = hourLabels.includes(v);
  return (
    <g>
      <line x1={p.x} x2={p.x} y1={p.y} y2={p.y + dir * (major ? 6 : 3)} stroke="#000" />
      {withLabel && major && (
        <text x={p.x} y={p.y + 27} textAnchor="middle" fontSize={14} fontFamily={FONT} fill="#000">
          {v}
        </text>
      )}
    </g>
  );
};

const planetLabel = (name: string, last: number) => (p: any) => {
  if (p.index !== last) return <g />;
  const x = p.x ?? p.viewBox?.x;
  const y = p.y ?? p.viewBox?.y;
  return (
    <text x={x + 3} y={y} dy="0.35em" fontSize={14} fontFamily={FONT} fill="#000">
      {name}
    </text>
  );
};

const custom = { stroke: '#000', tickSize: 0, tickMargin: 0, tickLine: false, interval: 0 as const };
const plain = { stroke: '#000', tickSize: 6, interval: 0 as const };

const DirectionPanel = () => (
  <ComposedChart width={600} height={330} margin={{ top: 30, right: 0, bottom: 0, left: 60 }}>
    <XAxis xAxisId="b" dataKey="h" type="number" domain={[0, 24]} ticks={hourTicks} tick={makeHourTick(1, false)} height={11} {...custom} />
    <XAxis xAxisId="t" orientation="top" dataKey="h" type="number" domain={[0, 24]} ticks={hourTicks} tick={makeHourTick(-1, false)} height={10} allowDataOverflow {...custom} />
    <YAxis yAxisId="l" dataKey="v" type="number" domain={[-90, 90]} ticks={angleTicks} tick={AngleTick} width={40} {...custom} />
    <YAxis yAxisId="r" orientation="right" dataKey="v" type="number" domain={[-90, 90]} ticks={angleTicks} tick={false} width={50} allowDataOverflow {...plain} />

    <Line xAxisId="b" yAxisId="l" data={pts(jupiterSteps)} dataKey="v" type="stepAfter" stroke="#000" strokeWidth={3} dot={false} activeDot={false} isAnimationActive={false} label={planetLabel('Jupiter', jupiterSteps.length - 1)} />
    <Line xAxisId="b" yAxisId="l" data={pts(coreGreenEarly)} dataKey="v" stroke={COLORS['148']} strokeWidth={5} dot={false} activeDot={false} isAnimationActive={false} />

    <Scatter xAxisId="b" yAxisId="l" data={pts(dirRed)} dataKey="v" shape={dash(COLORS['52'], 3, 2)} isAnimationActive={false} />
    <Scatter xAxisId="b" yAxisId="l" data={pts(dirOrange)} dataKey="v" shape={dash(COLORS['100'], 3, 2)} isAnimationActive={false} />
    <Scatter xAxisId="b" yAxisId="l" data={pts(dirYellow)} dataKey="v" shape={dash(COLORS['120'], 3, 2)} isAnimationActive={false} />
    <Line xAxisId="b" yAxisId="l" data={pts(coreGreenLate)} dataKey="v" stroke={COLORS['148']} strokeWidth={5} dot={false} activeDot={false} isAnimationActive={false} />
    <Scatter xAxisId="b" yAxisId="l" data={pts(dirGreen)} dataKey="v" shape={dash(COLORS['148'], 3, 2)} isAnimationActive={false} />
    <Line xAxisId="b" yAxisId="l" data={pts(coreCyan)} dataKey="v" stroke={COLORS['272']} strokeWidth={8} dot={false} activeDot={false} isAnimationActive={false} />
    <Scatter xAxisId="b" yAxisId="l" data={pts(dirCyan)} dataKey="v" shape={dash(COLORS['272'], 3, 2)} isAnimationActive={false} />
    <Scatter xAxisId="b" yAxisId="l" data={pts(dirBlue)} dataKey="v" shape={dash(COLORS['540'], 3, 2)} isAnimationActive={false} />

    <Line xAxisId="b" yAxisId="l" data={pts(saturnSteps)} dataKey="v" type="stepAfter" stroke="#ff0000" strokeWidth={3} dot={false} activeDot={false} isAnimationActive={false} label={planetLabel('Saturn', saturnSteps.length - 1)} />
  </ComposedChart>
);

const IntensityPanel = () => (
  <ComposedChart width={600} height={250} margin={{ top: 0, right: 0, bottom: 0, left: 60 }}>
    <XAxis xAxisId="b" dataKey="h" type="number" domain={[0, 24]} ticks={hourTicks} tick={makeHourTick(1, true)} height={30} allowDataOverflow {...custom} />
    <XAxis xAxisId="t" orientation="top" dataKey="h" type="number" domain={[0, 24]} ticks={hourTicks} tick={makeHourTick(-1, false)} height={9} allowDataOverflow {...custom} />
    <YAxis yAxisId="l" dataKey="v" type="number" scale="log" domain={[0.001, 1]} ticks={intensityTicks} tick={IntensityTick} width={40} allowDataOverflow {...custom} />
    <YAxis yAxisId="r" orientation="right" dataKey="v" type="number" scale="log" domain={[0.001, 1]} ticks={intensityTicks} tick={false} width={50} allowDataOverflow {...plain} />

    <Scatter xAxisId="b" yAxisId="l" data={pts(intRed)} dataKey="v" shape={dash(COLORS['52'], 4, 4)} isAnimationActive={false} />
    <Scatter xAxisId="b" yAxisId="l" data={pts(intOrange)} dataKey="v" shape={dash(COLORS['100'], 4, 4)} isAnimationActive={false} />
    <Scatter xAxisId="b" yAxisId="l" data={pts(intYellow)} dataKey="v" shape={dash(COLORS['120'], 4, 4)} isAnimationActive={false} />
    <Scatter xAxisId="b" yAxisId="l" data={pts(intGreen)} dataKey="v" shape={dash(COLORS['148'], 4, 4)} isAnimationActive={false} />
    <Line xAxisId="b" yAxisId="l" data={pts(traceCyan)} dataKey="v" stroke={COLORS['272']} strokeWidth={3} dot={false} activeDot={false} isAnimationActive={false} />
    <Scatter xAxisId="b" yAxisId="l" data={pts(cloudCyan)} dataKey="v" shape={dash(COLORS['272'], 4, 3)} isAnimationActive={false} />
    <Line xAxisId="b" yAxisId="l" data={pts(levelBlue)} dataKey="v" stroke={COLORS['540']} strokeWidth={3} dot={false} activeDot={false} isAnimationActive={false} />
    <Scatter xAxisId="b" yAxisId="l" data={pts(spikesBlue)} dataKey="v" shape={dash(COLORS['540'], 3, 3)} isAnimationActive={false} />
    <Line xAxisId="b" yAxisId="l" data={pts(levelPurple)} dataKey="v" stroke={COLORS['940']} strokeWidth={3} dot={false} activeDot={false} isAnimationActive={false} />
    <Scatter xAxisId="b" yAxisId="l" data={pts(spikesPurple)} dataKey="v" shape={dash(COLORS['940'], 3, 3)} isAnimationActive={false} />
  </ComposedChart>
);

const txt: React.CSSProperties = {
  position: 'absolute',
  fontFamily: FONT,
  fontSize: 14,
  lineHeight: '16px',
  color: '#000',
  whiteSpace: 'pre',
};

export default function App() {
  return (
    <div style={{ position: 'absolute', left: 0, top: 0, width: 600, height: 650, background: '#fff', fontFamily: FONT }}>
      <div style={{ ...txt, fontSize: 19, lineHeight: '20px', left: 326, top: 4, transform: 'translateX(-50%)' }}>
        URAP Direction Finding  2003-08-09
      </div>
      <div style={{ position: 'absolute', left: 0, top: 0 }}>
        <DirectionPanel />
      </div>
      <div style={{ position: 'absolute', left: 0, top: 330 }}>
        <IntensityPanel />
      </div>
      <div style={{ ...txt, left: 48, top: 180, transform: 'translate(-50%, -50%) rotate(-90deg)' }}>
        Azimuthal angle (deg)
      </div>
      <div style={{ ...txt, left: 32, top: 448, transform: 'translate(-50%, -50%) rotate(-90deg)' }}>
        Intensity (microvolt/sqrt(Hz))
      </div>
      <div style={{ ...txt, left: 325, top: 584, transform: 'translateX(-50%)' }}>
        time - hours on 2003-08-09
      </div>
      <div style={{ ...txt, left: 101, top: 613 }}>Frequencies (kHz):</div>
      {freqNames.map((f, i) => (
        <div key={f} style={{ ...txt, left: 231 + i * 50, top: 613, color: COLORS[f] }}>
          {f}
        </div>
      ))}
    </div>
  );
}
